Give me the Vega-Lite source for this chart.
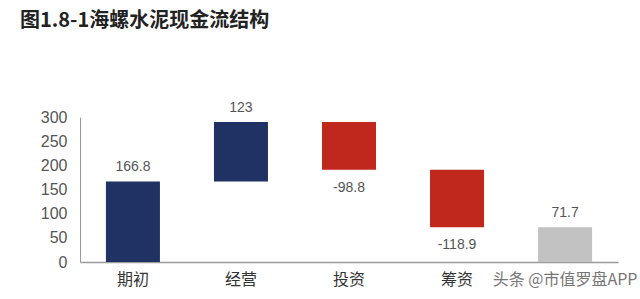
{
  "$schema": "https://vega.github.io/schema/vega-lite/v6.json",
  "autosize": "none",
  "width": 538,
  "height": 145,
  "padding": {"left": 80, "top": 117, "right": 22, "bottom": 37},
  "background": "white",
  "config": {
    "view": {"stroke": null},
    "font": "Liberation Sans",
    "axisY": {
      "title": null, "values": [0, 50, 100, 150, 200, 250, 300],
      "labelOverlap": false, "labelBound": false,
      "ticks": false, "grid": false, "labelPadding": 13,
      "labelFontSize": 16, "labelColor": "#555555",
      "domainColor": "#9a9a9a", "domainWidth": 1
    }
  },
  "title": {
    "text": "图1.8-1海螺水泥现金流结构",
    "anchor": "start",
    "frame": "group",
    "dx": -60,
    "offset": 70,
    "font": "Noto Sans CJK SC",
    "fontSize": 20,
    "fontWeight": "bold",
    "color": "#222222"
  },
  "data": {
    "values": [
      {"cat": "期初", "start": 0, "end": 166.8, "label": "166.8", "kind": "pos"},
      {"cat": "经营", "start": 166.8, "end": 289.8, "label": "123", "kind": "pos"},
      {"cat": "投资", "start": 289.8, "end": 191.0, "label": "-98.8", "kind": "neg"},
      {"cat": "筹资", "start": 191.0, "end": 72.1, "label": "-118.9", "kind": "neg"},
      {"cat": "期末", "start": 0, "end": 71.7, "label": "71.7", "kind": "total"}
    ]
  },
  "encoding": {
    "x": {
      "field": "cat", "type": "nominal", "sort": null,
      "scale": {"paddingInner": 0.5, "paddingOuter": 0.24},
      "axis": {
        "title": null, "labelAngle": 0, "ticks": false, "labelPadding": 9,
        "labelFont": "Noto Sans CJK SC", "labelFontSize": 16,
        "labelColor": {"condition": {"test": "datum.value == '期末'", "value": "#777777"}, "value": "#333333"},
        "labelExpr": "datum.value == '期末' ? '头条 @市值罗盘APP' : datum.value",
        "labelOverlap": false,
        "domainColor": "#9a9a9a", "domainWidth": 1.5
      }
    }
  },
  "layer": [
    {
      "mark": {"type": "bar"},
      "encoding": {
        "y": {
          "field": "start", "type": "quantitative",
          "scale": {"domain": [0, 300], "nice": false},
          "axis": {"values": [0, 50, 100, 150, 200, 250, 300], "labelOverlap": false}
        },
        "y2": {"field": "end"},
        "color": {
          "field": "kind", "type": "nominal", "legend": null,
          "scale": {"domain": ["pos", "neg", "total"], "range": ["#203264", "#c0271d", "#c2c2c2"]}
        }
      }
    },
    {
      "transform": [{"filter": "datum.kind != 'neg'"}],
      "mark": {"type": "text", "baseline": "bottom", "dy": -7, "fontSize": 14, "color": "#555555"},
      "encoding": {
        "y": {"field": "end", "type": "quantitative", "axis": {"values": [0, 50, 100, 150, 200, 250, 300], "labelOverlap": false}},
        "text": {"field": "label"}
      }
    },
    {
      "transform": [{"filter": "datum.kind == 'neg'"}],
      "mark": {"type": "text", "baseline": "top", "dy": 11, "fontSize": 14, "color": "#555555"},
      "encoding": {
        "y": {"field": "end", "type": "quantitative", "axis": {"values": [0, 50, 100, 150, 200, 250, 300], "labelOverlap": false}},
        "text": {"field": "label"}
      }
    }
  ]
}
